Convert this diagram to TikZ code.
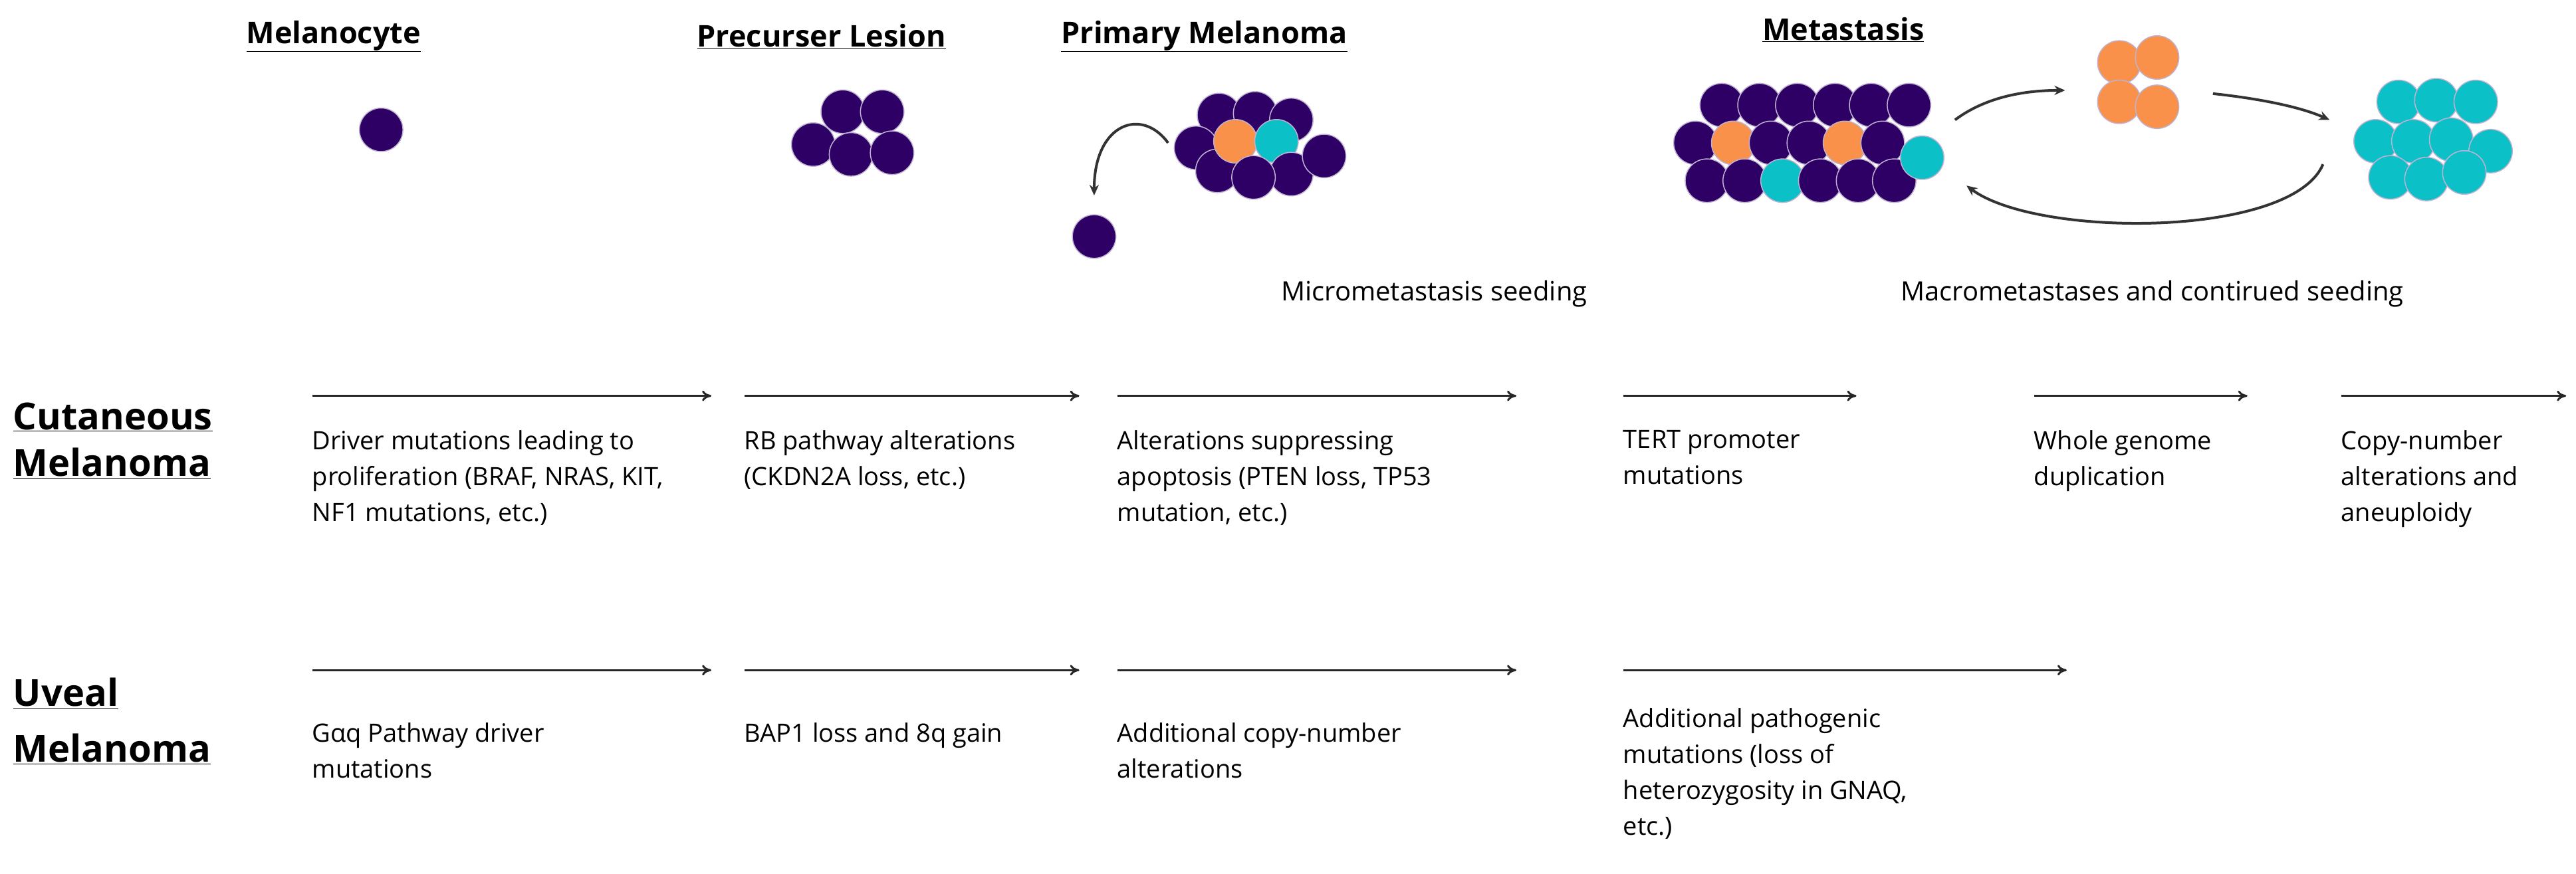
\documentclass[tikz,border=0pt]{standalone}
\usepackage{fontspec}
\setmainfont{Open Sans}
\usetikzlibrary{arrows.meta}
\definecolor{mpur}{HTML}{2E0066}
\definecolor{mor}{HTML}{F9914A}
\definecolor{mcy}{HTML}{0CC0C8}
\begin{document}
\begin{tikzpicture}[x=2.4713pt,y=-2.4713pt,
  hdr/.style={font=\fontsize{45}{52}\selectfont\bfseries, inner sep=0pt},
  rowlab/.style={font=\fontsize{56}{64}\selectfont\bfseries, inner sep=0pt, anchor=west},
  txt/.style={font=\fontsize{38}{54}\selectfont, inner sep=0pt, align=left, anchor=north west},
  capt/.style={font=\fontsize{40}{46}\selectfont, inner sep=0pt},
  stp/.style={-{To[length=14pt,width=16pt]}, line width=3pt, black!85},
  curv/.style={-{Stealth[length=16pt,width=14pt]}, line width=4pt, black!80},
  cell/.style={circle, minimum size=26.5*2.4713pt, inner sep=0pt, draw=white!70!mpur, line width=1.5pt},
  P/.style={cell, fill=mpur}, O/.style={cell, fill=mor}, C/.style={cell, fill=mcy}]
\useasboundingbox (0,0) rectangle (1568,532.1);
% headers
\node[hdr] (h1) at (203,22) {\underline{Melanocyte}};
\node[hdr] (h2) at (500,22) {\underline{Precurser Lesion}};
\node[hdr] (h3) at (733,22) {\underline{Primary Melanoma}};
\node[hdr] (h4) at (1122,18) {\underline{Metastasis}};
% melanocyte
\node[P] (m1) at (232,79) {};
% precursor
\node[P] (p3) at (495,88) {};
\node[P] (p1) at (513,68) {};
\node[P] (p2) at (537,68) {};
\node[P] (p4) at (518,94) {};
\node[P] (p5) at (543,93) {};
% primary
\node[P] (q1) at (742,70) {};
\node[P] (q2) at (764,69) {};
\node[P] (q3) at (786,73) {};
\node[P] (q4) at (728,90) {};
\node[P] (q7) at (741,104) {};
\node[O] (q5) at (752,86) {};
\node[C] (q6) at (777,86) {};
\node[P] (q9) at (786,106) {};
\node[P] (q8) at (763,108) {};
\node[P] (q10) at (806,95) {};
\node[P] (esc) at (666,144) {};
\coordinate (qs) at (711,87);
\coordinate (qe) at (666,119);
\draw[curv] (qs) .. controls (695,65) and (666,75) .. (qe);
% metastasis primary mass
\foreach \x [count=\i] in {1048,1071,1094,1117,1139,1162} \node[P] (t\i) at (\x,64) {};
\foreach \x/\c [count=\i] in {1032/P,1055/O,1078/P,1101/P,1123/O,1146/P} \node[\c] (u\i) at (\x,87) {};
\foreach \x/\c [count=\i] in {1039/P,1062/P,1085/C,1108/P,1131/P,1153/P} \node[\c] (v\i) at (\x,110) {};
\node[C] (mc) at (1170,96) {};
% orange cluster
\node[O] (o1) at (1290,38) {};
\node[O] (o2) at (1313,35) {};
\node[O] (o3) at (1290,62) {};
\node[O] (o4) at (1313,65) {};
% cyan cluster
\node[C] (c1) at (1460,62) {};
\node[C] (c2) at (1483,61) {};
\node[C] (c3) at (1507,62) {};
\node[C] (c4) at (1446,86) {};
\node[C] (c5) at (1469,86) {};
\node[C] (c6) at (1492,85) {};
\node[C] (c7) at (1516,92) {};
\node[C] (c8) at (1455,108) {};
\node[C] (c9) at (1477,109) {};
\node[C] (c10) at (1500,105) {};
% cycle arrows
\coordinate (a1) at (1190,73);
\coordinate (a2) at (1257,55);
\coordinate (a3) at (1347,57);
\coordinate (a4) at (1418,73);
\coordinate (a5) at (1414,100);
\coordinate (a6) at (1197,113);
\draw[curv] (a1) .. controls (1210,58) and (1235,55) .. (a2);
\draw[curv] (a3) .. controls (1375,60) and (1400,65) .. (a4);
\draw[curv] (a5) .. controls (1395,145) and (1240,145) .. (a6);
% captions
\node[capt] (cap1) at (873,179) {Micrometastasis seeding};
\node[capt] (cap2) at (1310,179) {Macrometastases and contirued seeding};
% row labels
\node[rowlab] (r1a) at (8,254) {\underline{Cutaneous}};
\node[rowlab] (r1b) at (8,282) {\underline{Melanoma}};
\node[rowlab] (r2a) at (8,422) {\underline{Uveal}};
\node[rowlab] (r2b) at (8,456) {\underline{Melanoma}};
% cutaneous arrows
\foreach \a/\b [count=\i] in {190/433,453/657,680/923,988/1130,1238/1368,1425/1562}{
  \coordinate (cs\i) at (\a,241); \coordinate (ce\i) at (\b,241);
  \draw[stp] (cs\i) -- (ce\i);}
\node[txt] (t1c) at (190,262) {Driver mutations leading to\\proliferation (BRAF, NRAS, KIT,\\NF1 mutations, etc.)};
\node[txt] (t2c) at (453,262) {RB pathway alterations\\(CKDN2A loss, etc.)};
\node[txt] (t3c) at (680,262) {Alterations suppressing\\apoptosis (PTEN loss, TP53\\mutation, etc.)};
\node[txt] (t4c) at (988,262) {TERT promoter\\mutations};
\node[txt] (t5c) at (1238,262) {Whole genome\\duplication};
\node[txt] (t6c) at (1425,262) {Copy-number\\alterations and\\aneuploidy};
% uveal arrows
\foreach \a/\b [count=\i] in {190/433,453/657,680/923,988/1258}{
  \coordinate (us\i) at (\a,408); \coordinate (ue\i) at (\b,408);
  \draw[stp] (us\i) -- (ue\i);}
\node[txt] (t1u) at (190,440) {Gαq Pathway driver\\mutations};
\node[txt] (t2u) at (453,440) {BAP1 loss and 8q gain};
\node[txt] (t3u) at (680,440) {Additional copy-number\\alterations};
\node[txt] (t4u) at (988,431) {Additional pathogenic\\mutations (loss of\\heterozygosity in GNAQ,\\etc.)};
\end{tikzpicture}
\end{document}
